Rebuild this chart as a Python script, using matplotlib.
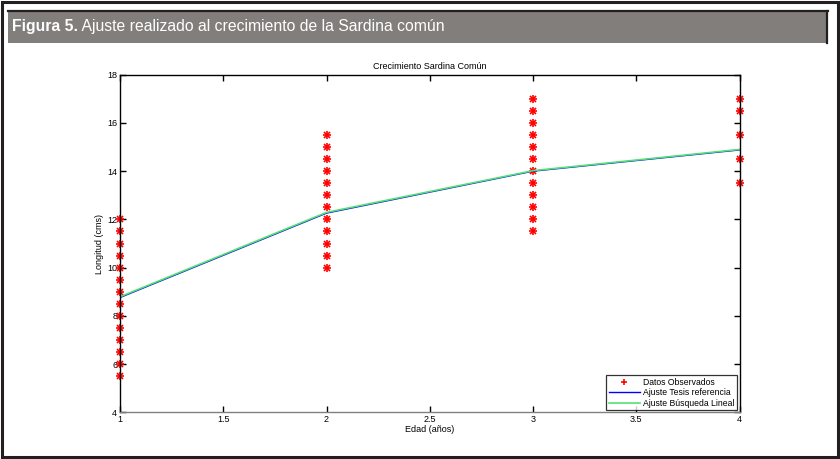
import matplotlib
matplotlib.use("Agg")
from matplotlib import pyplot as plt
from matplotlib.patches import Rectangle
from matplotlib.lines import Line2D

# observed lengths (cm) per age
edad_1 = [5.5, 6, 6.5, 7, 7.5, 8, 8.5, 9, 9.5, 10, 10.5, 11, 11.5, 12]
edad_2 = [10, 10.5, 11, 11.5, 12, 12.5, 13, 13.5, 14, 14.5, 15, 15.5]
edad_3 = [11.5, 12, 12.5, 13, 13.5, 14, 14.5, 15, 15.5, 16, 16.5, 17]
edad_4 = [13.5, 14.5, 15.5, 16.5, 17]

# fitted curves
edades_fit = [1, 2, 3, 4]
ajuste_tesis = [8.76, 12.26, 14.0, 14.88]
ajuste_busqueda = [8.79, 12.29, 14.02, 14.9]

titulo = "Crecimiento Sardina Común"
fig_bold = "Figura 5."
fig_rest = " Ajuste realizado al crecimiento de la Sardina común"

plt.rcParams['font.family'] = ['Liberation Sans', 'DejaVu Sans']

fig = plt.figure(figsize=(8.4, 4.59), dpi=100)
W, H = 840.0, 459.0

# outer frame and header bar
frame_col = '#231f20'
fig.patches.append(Rectangle((2 / W, 2 / H), 836 / W, 455 / H, transform=fig.transFigure,
                             fill=False, edgecolor=frame_col, linewidth=2.2))
fig.patches.append(Rectangle((8 / W, 1 - 43 / H), 820 / W, 33 / H, transform=fig.transFigure,
                             facecolor='#827e7c', edgecolor='none'))
for xs, ys in [((8, 828), (11, 11)), ((827, 827), (11, 43))]:
    fig.lines.append(Line2D([x / W for x in xs], [1 - y / H for y in ys],
                            transform=fig.transFigure, color=frame_col, linewidth=1.6))

hdr_font = dict(color='white', fontsize=11.3, va='center', ha='left',
                family=['DejaVu Sans Condensed', 'Liberation Sans'])
t1 = fig.text(12 / W, 1 - 27 / H, fig_bold, fontweight='bold', **hdr_font)
fig.canvas.draw()
bb = t1.get_window_extent()
fig.text(bb.x1 / W, 1 - 27 / H, fig_rest, **hdr_font)

ax = fig.add_axes([120 / W, 1 - 412.3 / H, 619.5 / W, 337.6 / H])

for edad, vals in zip([1, 2, 3, 4], [edad_1, edad_2, edad_3, edad_4]):
    ax.plot([edad] * len(vals), vals, linestyle='none', marker='+', color='red',
            markersize=6, markeredgewidth=1.2, clip_on=False)
    ax.plot([edad] * len(vals), vals, linestyle='none', marker='x', color='red',
            markersize=4.2, markeredgewidth=1.2, clip_on=False)
ax.plot([], [], linestyle='none', marker='+', color='red', markersize=4,
        markeredgewidth=1.2, label='Datos Observados')
ax.plot(edades_fit, ajuste_tesis, color='blue', linewidth=1.0, label='Ajuste Tesis referencia')
ax.plot(edades_fit, ajuste_busqueda, color='#55e070', linewidth=1.2, label='Ajuste Búsqueda Lineal')

ax.set_xlim(1, 4)
ax.set_ylim(4, 18)
ax.set_xticks([1, 1.5, 2, 2.5, 3, 3.5, 4])
ax.set_xticklabels(['1', '1.5', '2', '2.5', '3', '3.5', '4'])
ax.set_yticks([4, 6, 8, 10, 12, 14, 16, 18])
ax.tick_params(direction='in', length=4, width=1, labelsize=6.5, pad=2, top=True, right=True)
for s in ax.spines.values():
    s.set_linewidth(1.0)
ax.spines['bottom'].set_color('#808080')

ax.set_title(titulo, fontsize=6.5, pad=4)
ax.set_xlabel('Edad (años)', fontsize=6.5, labelpad=1)
ax.set_ylabel('Longitud (cms)', fontsize=6.5, labelpad=2)

leg = ax.legend(loc='lower right', fontsize=6.2, frameon=True, fancybox=False,
                borderpad=0.3, labelspacing=0.15, handlelength=3.6, handletextpad=0.4,
                borderaxespad=0.25, numpoints=1)
leg.get_frame().set_edgecolor('black')
leg.get_frame().set_linewidth(0.9)

fig.savefig('out.png', dpi=100)
